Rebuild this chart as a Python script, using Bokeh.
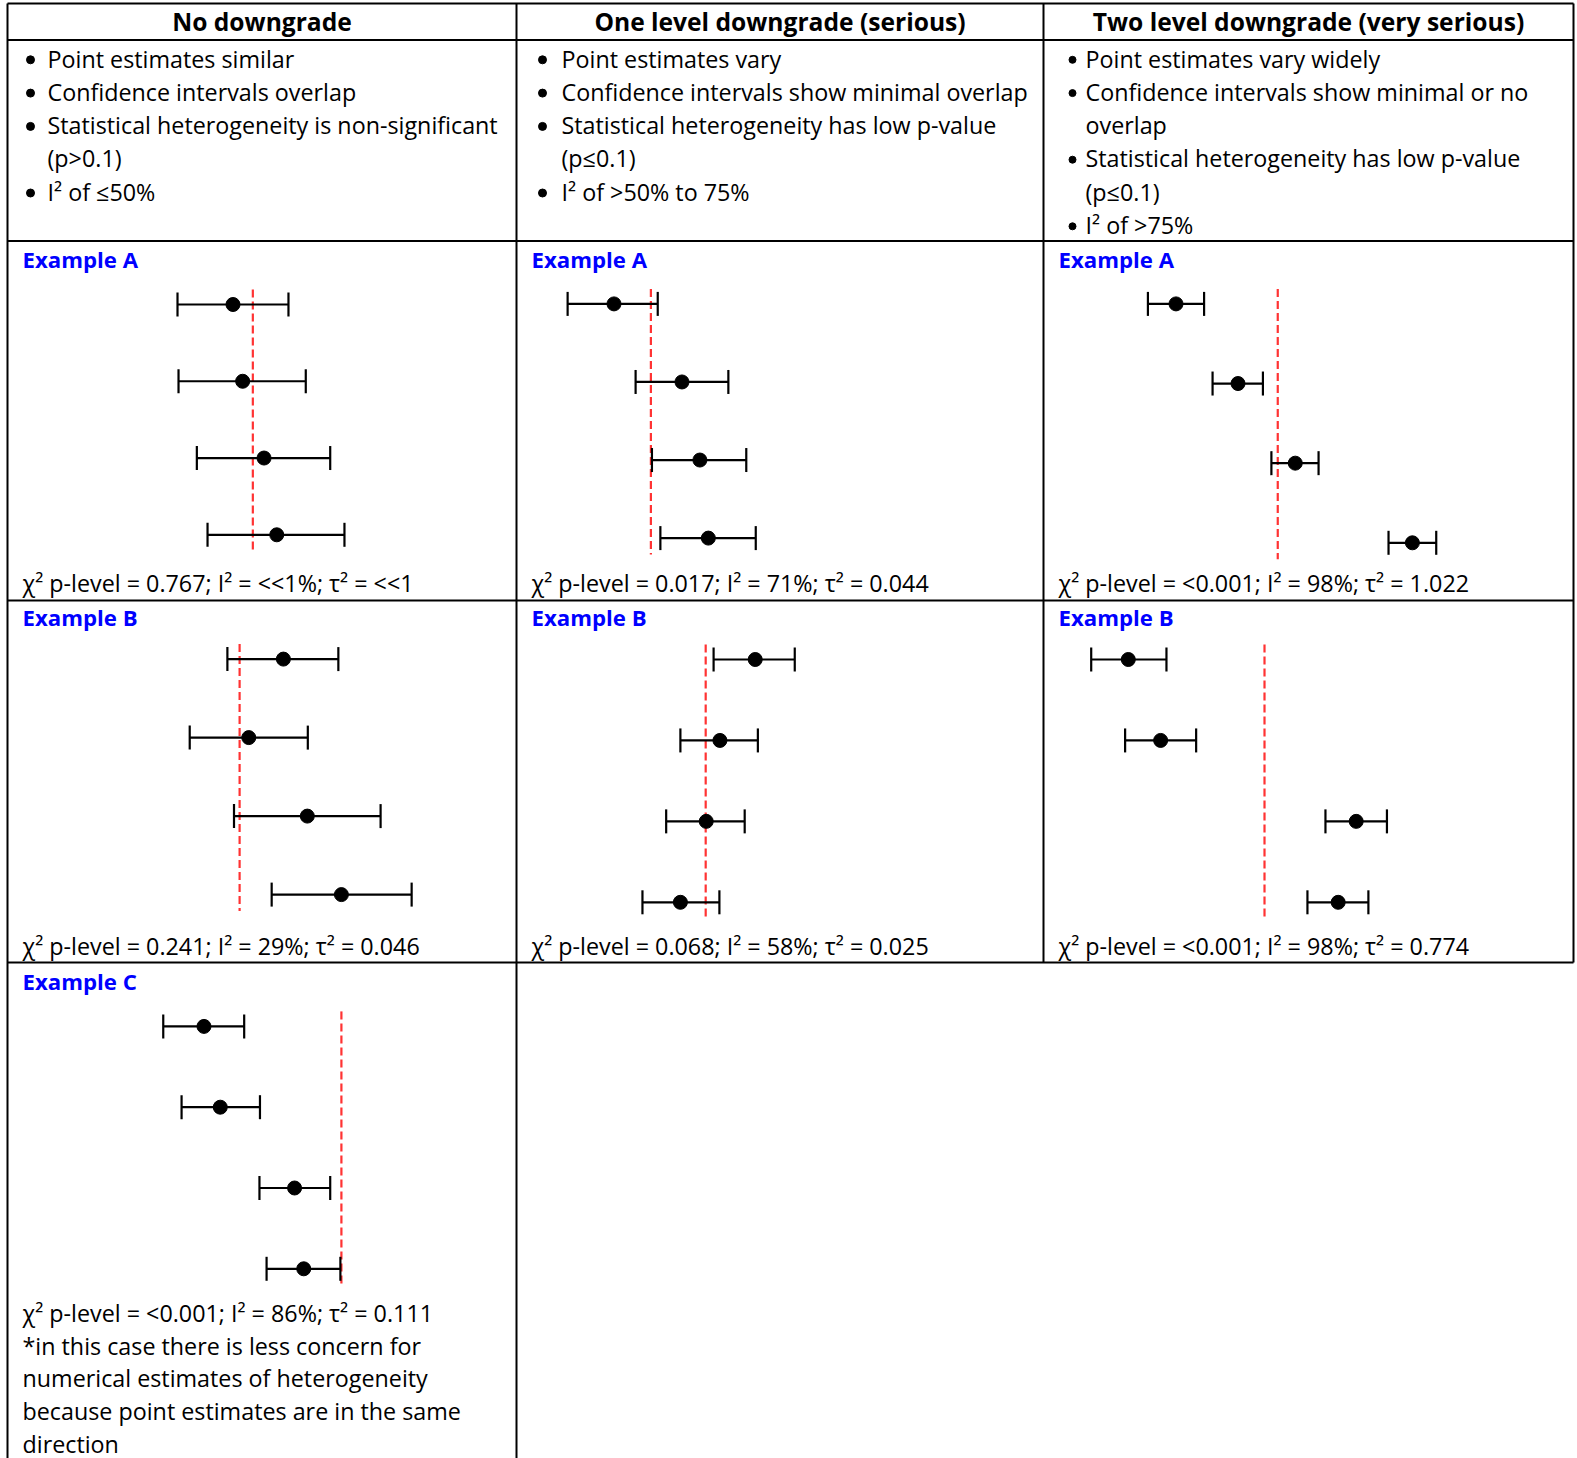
from bokeh.plotting import figure
from bokeh.models import Range1d
from bokeh.core.properties import value
from bokeh.embed import file_html
from bokeh.resources import INLINE

# ---------------- data ----------------
column_titles = ["No downgrade", "One level downgrade (serious)", "Two level downgrade (very serious)"]

criteria_col1 = ["Point estimates similar", "Confidence intervals overlap",
                 "Statistical heterogeneity is non-significant", "(p>0.1)", "I² of ≤50%"]
bullet_col1 = [True, True, True, False, True]
criteria_col2 = ["Point estimates vary", "Confidence intervals show minimal overlap",
                 "Statistical heterogeneity has low p-value", "(p≤0.1)", "I² of >50% to 75%"]
bullet_col2 = [True, True, True, False, True]
criteria_col3 = ["Point estimates vary widely", "Confidence intervals show minimal or no", "overlap",
                 "Statistical heterogeneity has low p-value", "(p≤0.1)", "I² of >75%"]
bullet_col3 = [True, True, False, True, False, True]

study = [1, 2, 3, 4]

# effect estimates, in % of the panel width
est_1A = [44.3, 46.2, 50.4, 52.9]; lo_1A = [33.4, 33.6, 37.2, 39.3]; hi_1A = [55.2, 58.6, 63.4, 66.2]; pooled_1A = 48.2
est_2A = [18.5, 31.4, 34.8, 36.4]; lo_2A = [9.7, 22.6, 25.7, 27.3]; hi_2A = [26.8, 40.2, 43.6, 45.4]; pooled_2A = 25.5
est_3A = [25.0, 36.7, 47.5, 69.6]; lo_3A = [19.7, 31.9, 43.0, 65.1]; hi_3A = [30.3, 41.4, 51.9, 74.1]; pooled_3A = 44.2
est_1B = [54.2, 47.4, 58.9, 65.6]; lo_1B = [43.2, 35.8, 44.5, 51.9]; hi_1B = [65.0, 59.0, 73.3, 79.4]; pooled_1B = 45.6
est_2B = [45.3, 38.6, 36.0, 31.1]; lo_2B = [37.4, 31.1, 28.4, 23.9]; hi_2B = [52.8, 45.8, 43.3, 38.5]; pooled_2B = 35.9
est_3B = [16.0, 22.1, 59.0, 55.6]; lo_3B = [9.0, 15.4, 53.2, 49.8]; hi_3B = [23.2, 28.8, 64.8, 61.3]; pooled_3B = 41.7
est_1C = [38.6, 41.8, 56.4, 58.2]; lo_1C = [30.6, 34.2, 49.5, 50.9]; hi_1C = [46.5, 49.6, 63.4, 65.4]; pooled_1C = 65.6

label_1A = "Example A"; stat_1A = "χ² p-level = 0.767; I² = <<1%; τ² = <<1"
label_2A = "Example A"; stat_2A = "χ² p-level = 0.017; I² = 71%; τ² = 0.044"
label_3A = "Example A"; stat_3A = "χ² p-level = <0.001; I² = 98%; τ² = 1.022"
label_1B = "Example B"; stat_1B = "χ² p-level = 0.241; I² = 29%; τ² = 0.046"
label_2B = "Example B"; stat_2B = "χ² p-level = 0.068; I² = 58%; τ² = 0.025"
label_3B = "Example B"; stat_3B = "χ² p-level = <0.001; I² = 98%; τ² = 0.774"
label_1C = "Example C"; stat_1C = "χ² p-level = <0.001; I² = 86%; τ² = 0.111"

footnote = ["*in this case there is less concern for", "numerical estimates of heterogeneity",
            "because point estimates are in the same", "direction"]

panels = {
    "1A": (est_1A, lo_1A, hi_1A, pooled_1A, label_1A, stat_1A),
    "2A": (est_2A, lo_2A, hi_2A, pooled_2A, label_2A, stat_2A),
    "3A": (est_3A, lo_3A, hi_3A, pooled_3A, label_3A, stat_3A),
    "1B": (est_1B, lo_1B, hi_1B, pooled_1B, label_1B, stat_1B),
    "2B": (est_2B, lo_2B, hi_2B, pooled_2B, label_2B, stat_2B),
    "3B": (est_3B, lo_3B, hi_3B, pooled_3B, label_3B, stat_3B),
    "1C": (est_1C, lo_1C, hi_1C, pooled_1C, label_1C, stat_1C),
}

# ---------------- layout (page pixels) ----------------
W, H = 1577, 1458
TXT = 8.0          # text glyph baseline correction
FONT = value("Open Sans")
BODY = "23.3px"
COL_L = [7, 516, 1043]
COL_R = [516, 1043, 1573]
# column, study-1 and study-4 row positions, label/stat baselines per panel
panel_layout = {
    "1A": (0, 304.0, 534.3, 267, 590),
    "2A": (1, 303.4, 537.6, 267, 590),
    "3A": (2, 303.4, 542.3, 267, 590),
    "1B": (0, 658.6, 894.1, 625, 953),
    "2B": (1, 659.0, 901.8, 625, 953),
    "3B": (2, 659.0, 901.8, 625, 953),
    "1C": (0, 1025.9, 1268.3, 989, 1320),
}
TEXT_DX = 15

p = figure(width=W, height=H, output_backend="svg", toolbar_location=None,
           x_range=Range1d(0, W), y_range=Range1d(H, 0),
           x_axis_location=None, y_axis_location=None, min_border=0)
p.outline_line_color = None
p.xgrid.visible = False
p.ygrid.visible = False
p.background_fill_color = "white"
p.border_fill_color = "white"

# table rules
h_y = [3, 39.5, 240.5, 600, 962]
h_x1 = [1573, 1573, 1573, 1573, 1573]
p.segment(x0=[7] * len(h_y), x1=h_x1, y0=h_y, y1=h_y, line_color="black", line_width=2)
v_x = [7, 516, 1043, 1573]
v_end = [H, H, 962, 962]
p.segment(x0=v_x, x1=v_x, y0=[3] * 4, y1=v_end, line_color="black", line_width=2)

# column headers
p.text(x=[(l + r) / 2 for l, r in zip(COL_L, COL_R)], y=[28.5 - TXT] * 3, text=column_titles,
       text_font=FONT, text_font_style="bold", text_font_size="24.6px", text_align="center",
       text_baseline="alphabetic", text_color="black")

# criteria bullets
LINE0, LSP = 66.0, 33.3
for lines, flags, bx, tx, bsize in [
    (criteria_col1, bullet_col1, 30, 47, 8),
    (criteria_col2, bullet_col2, 542, 561, 8),
    (criteria_col3, bullet_col3, 1072, 1085, 7),
]:
    ys = [LINE0 + LSP * k for k in range(len(lines))]
    p.text(x=[tx] * len(lines), y=[y - TXT for y in ys], text=lines, text_font=FONT,
           text_font_size=BODY, text_baseline="alphabetic", text_align="left", text_color="black")
    by = [y - 6.7 for y, f in zip(ys, flags) if f]
    p.scatter(x=[bx] * len(by), y=by, size=bsize, marker="circle", color="black")

# forest panels
for name, (est, lo, hi, pooled, label, stat) in panels.items():
    c, y1, y4, lab_y, stat_y = panel_layout[name]
    L, R = COL_L[c], COL_R[c]
    sx = (R - L) / 100.0
    x0d = -L / sx
    p.extra_x_ranges[name] = Range1d(x0d, x0d + W / sx)
    b = (y4 - y1) / 3.0
    a = y1 - b
    p.extra_y_ranges[name] = Range1d((H - a) / b, -a / b)
    cap = 12.0 / b
    kw = dict(x_range_name=name, y_range_name=name)
    # pooled (dashed) line
    p.segment(x0=[pooled], x1=[pooled], y0=[1 - 15.0 / b], y1=[4 + 16.5 / b],
              line_color="#ff3333", line_width=2.2, line_dash="8 4", **kw)
    # confidence intervals
    p.segment(x0=lo, x1=hi, y0=study, y1=study, line_color="black", line_width=2.2, **kw)
    p.segment(x0=lo, x1=lo, y0=[s - cap for s in study], y1=[s + cap for s in study],
              line_color="black", line_width=2.2, **kw)
    p.segment(x0=hi, x1=hi, y0=[s - cap for s in study], y1=[s + cap for s in study],
              line_color="black", line_width=2.2, **kw)
    p.scatter(x=est, y=study, size=14, marker="circle", color="black", **kw)
    # texts
    p.text(x=[L + TEXT_DX], y=[lab_y - TXT], text=[label], text_font=FONT, text_font_style="bold",
           text_font_size="22.2px", text_color="#0000ff", text_baseline="alphabetic")
    p.text(x=[L + TEXT_DX], y=[stat_y - TXT], text=[stat], text_font=FONT,
           text_font_size=BODY, text_color="black", text_baseline="alphabetic")

# footnote for example C
fy = [1353, 1385.7, 1418.4, 1451]
p.text(x=[22] * len(footnote), y=[v - TXT for v in fy], text=footnote, text_font=FONT,
       text_font_size=BODY, text_color="black", text_baseline="alphabetic")

open("out.html", "w").write(file_html(p, INLINE))
